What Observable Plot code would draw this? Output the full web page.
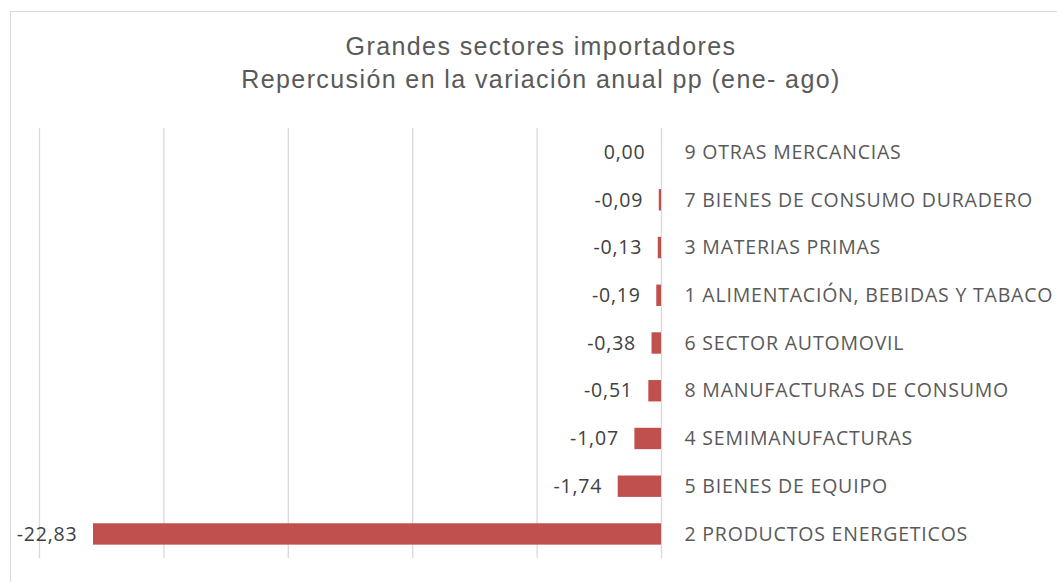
<!DOCTYPE html>
<html><head><meta charset="utf-8">
<script src="https://cdn.jsdelivr.net/npm/d3@7"></script>
<script src="https://cdn.jsdelivr.net/npm/@observablehq/plot@0.6"></script>
<style>
html,body{margin:0;padding:0;background:#fff;overflow:hidden;width:1057px;height:582px;}
#frame{position:absolute;left:10px;top:11px;width:1100px;height:640px;border:1px solid #d9d9d9;box-sizing:border-box;pointer-events:none;}
#title{position:relative;height:112px;width:1082px;text-align:center;font-family:"Liberation Sans",Arial,sans-serif;font-size:25px;letter-spacing:1.4px;color:#595959;line-height:33px;padding-top:30px;box-sizing:border-box;}
#chart{position:relative;}
#chart text{letter-spacing:0.8px;}
</style></head>
<body>
<div id="frame"></div>
<div id="title">Grandes sectores importadores<br>Repercusión en la variación anual pp (ene- ago)</div>
<div id="chart"></div>
<script>
const categories = [
  "9 OTRAS MERCANCIAS",
  "7 BIENES DE CONSUMO DURADERO",
  "3 MATERIAS PRIMAS",
  "1 ALIMENTACIÓN, BEBIDAS Y TABACO",
  "6 SECTOR AUTOMOVIL",
  "8 MANUFACTURAS DE CONSUMO",
  "4 SEMIMANUFACTURAS",
  "5 BIENES DE EQUIPO",
  "2 PRODUCTOS ENERGETICOS"
];
const values = [0.00, -0.09, -0.13, -0.19, -0.38, -0.51, -1.07, -1.74, -22.83];
const gridTicks = [-25, -20, -15, -10, -5, 0];

const data = categories.map((c, i) => ({cat: c, v: values[i]}));
const fmt = v => v.toFixed(2).replace(".", ",");

const chart = Plot.plot({
  width: 1057,
  height: 470,
  marginTop: 16,
  marginBottom: 24,
  marginLeft: 39,
  marginRight: 396,
  x: {domain: [-25, 0], axis: null},
  y: {domain: categories, axis: null, paddingInner: 0.552, paddingOuter: 0.28, round: false},
  style: {fontFamily: "'Open Sans', sans-serif", background: "transparent"},
  marks: [
    Plot.ruleX(gridTicks, {x: d => d, stroke: "#d9d9d9", strokeWidth: 1.3, strokeOpacity: 1}),
    Plot.barX(data, {y: "cat", x1: 0, x2: "v", fill: "#C0504D"}),
    Plot.text(data, {y: "cat", x: "v", text: d => fmt(d.v), textAnchor: "end", dx: -16, fill: "#404040", fontSize: 19.5}),
    Plot.text(data, {y: "cat", x: 0, text: "cat", textAnchor: "start", dx: 23, fill: "#595959", fontSize: 19.5})
  ]
});
document.getElementById("chart").appendChild(chart);
</script>
</body></html>
